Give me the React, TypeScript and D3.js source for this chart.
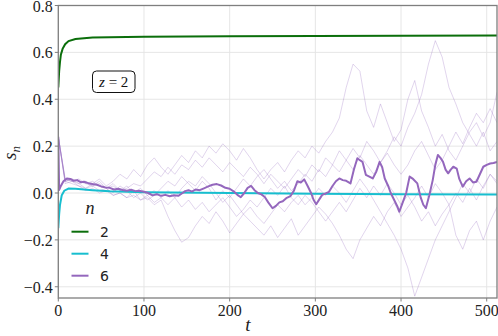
import * as d3 from "d3";

const width = 498;
const height = 336;
const margin = { left: 58.3, right: 1, top: 5.5, bottom: 38 };

const xTicks = [0, 100, 200, 300, 400, 500];
const yTicks = [-0.4, -0.2, 0.0, 0.2, 0.4, 0.6, 0.8];

// n = 2 and n = 4 curves
const greenT = [0, 1, 2, 3, 5, 8, 12, 20, 40, 100, 200, 300, 400, 512];
const greenV = [0.45, 0.52, 0.56, 0.59, 0.615, 0.635, 0.648, 0.657, 0.663, 0.667, 0.669, 0.67, 0.671, 0.672];
const cyanT = [0, 1, 2, 4, 7, 12, 20, 40, 60, 100, 200, 300, 400, 512];
const cyanV = [-0.15, -0.09, -0.05, -0.01, 0.01, 0.019, 0.018, 0.012, 0.007, 0.003, 0.0, -0.003, -0.005, -0.006];

// n = 6 average
const meanT = [0, 1, 3, 6, 10, 14, 18, 22, 26, 30, 35, 40, 45, 50, 55, 60, 65, 70, 75, 80, 85, 90, 94, 100, 105, 110, 115, 120, 125, 130, 135, 140, 145, 148, 152, 156, 160, 165, 170, 175, 180, 185, 190, 195, 200, 205, 209, 213, 217, 221, 225, 229, 233, 237, 241, 245, 250, 254, 258, 262, 266, 271, 275, 279, 283, 287, 291, 295, 298, 301, 305, 308, 312, 316, 320, 324, 328, 332, 336, 341, 345, 349, 352, 355, 359, 363, 367, 371, 375, 378, 381, 385, 388, 392, 396, 398, 402, 406, 410, 414, 419, 423, 426, 429, 433, 437, 440, 443, 446, 449, 452, 455, 458, 461, 465, 468, 472, 476, 480, 484, 488, 492, 496, 500, 504, 508, 512];
const meanV = [0.24, 0.013, 0.03, 0.05, 0.062, 0.06, 0.052, 0.055, 0.046, 0.048, 0.042, 0.038, 0.035, 0.028, 0.024, 0.022, 0.015, 0.018, 0.013, 0.01, 0.014, 0.008, 0.01, 0.005, 0.0, -0.01, -0.005, -0.012, -0.008, -0.014, -0.01, -0.012, 0.0, 0.008, 0.012, 0.006, 0.015, 0.012, 0.02, 0.028, 0.035, 0.038, 0.032, 0.022, 0.018, 0.006, -0.008, -0.018, 0.0, 0.022, 0.03, 0.012, 0.0, -0.006, -0.017, -0.04, -0.065, -0.055, -0.04, -0.035, -0.022, -0.013, 0.01, 0.05, 0.045, 0.058, 0.03, 0.0, -0.03, -0.048, -0.025, -0.008, -0.002, 0.005, 0.03, 0.05, 0.062, 0.055, 0.052, 0.041, 0.1, 0.148, 0.14, 0.133, 0.077, 0.07, 0.062, 0.09, 0.133, 0.11, 0.062, 0.03, 0.0, -0.03, -0.06, -0.08, -0.04, 0.0, 0.07, 0.06, 0.041, -0.02, -0.05, -0.065, -0.01, 0.055, 0.12, 0.162, 0.15, 0.133, 0.1, 0.084, 0.1, 0.112, 0.104, 0.06, 0.027, 0.05, 0.062, 0.045, 0.048, 0.08, 0.112, 0.12, 0.126, 0.128, 0.133];

// n = 6 single runs, sampled every 8 steps
const runStep = 8;
const run1 = [0.24, 0.05, 0.06, 0.05, 0.04, 0.05, 0.03, 0.02, 0.03, 0.01, 0.02, 0.04, 0.03, 0.06, 0.09, 0.07, 0.11, 0.08, 0.12, 0.10, 0.14, 0.11, 0.15, 0.12, 0.09, 0.13, 0.10, 0.07, 0.11, 0.08, 0.04, 0.08, 0.05, 0.02, 0.06, 0.10, 0.07, 0.12, 0.09, 0.15, 0.12, 0.18, 0.14, 0.10, 0.16, 0.12, 0.08, 0.13, 0.18, 0.24, 0.20, 0.28, 0.34, 0.42, 0.55, 0.65, 0.58, 0.45, 0.38, 0.30, 0.25, 0.20, 0.26, 0.18, 0.22];
const run2 = [0.24, 0.04, 0.05, 0.03, 0.02, 0.04, 0.06, 0.03, 0.05, 0.08, 0.06, 0.10, 0.07, 0.12, 0.15, 0.11, 0.08, 0.12, 0.16, 0.13, 0.18, 0.15, 0.20, 0.17, 0.21, 0.18, 0.14, 0.19, 0.15, 0.10, 0.06, 0.10, 0.13, 0.09, 0.14, 0.18, 0.15, 0.20, 0.17, 0.22, 0.26, 0.32, 0.45, 0.55, 0.52, 0.35, 0.28, 0.38, 0.30, 0.22, 0.27, 0.40, 0.48, 0.35, 0.28, 0.20, 0.25, 0.18, 0.14, 0.20, 0.26, 0.30, 0.24, 0.30, 0.43];
const run3 = [0.24, 0.06, 0.05, 0.04, 0.02, 0.03, 0.01, 0.02, -0.01, 0.00, -0.02, 0.01, -0.03, -0.01, -0.04, -0.02, 0.01, -0.02, 0.02, 0.05, 0.03, 0.07, 0.04, 0.00, -0.04, -0.01, -0.05, -0.09, -0.06, -0.10, -0.13, -0.09, -0.05, -0.08, -0.04, -0.01, -0.05, -0.02, 0.02, -0.01, 0.03, 0.00, -0.04, 0.01, 0.06, 0.02, -0.03, -0.08, -0.13, -0.18, -0.24, -0.32, -0.44, -0.36, -0.28, -0.20, -0.14, -0.08, -0.02, 0.04, 0.00, 0.06, 0.02, 0.08, 0.05];
const run4 = [0.24, 0.05, 0.04, 0.03, 0.01, 0.02, 0.00, 0.01, -0.01, 0.00, -0.02, -0.01, -0.03, -0.02, -0.05, -0.03, -0.10, -0.16, -0.21, -0.19, -0.14, -0.10, -0.13, -0.08, -0.12, -0.17, -0.13, -0.09, -0.12, -0.15, -0.18, -0.14, -0.19, -0.15, -0.11, -0.18, -0.14, -0.10, -0.06, -0.09, -0.13, -0.18, -0.24, -0.28, -0.20, -0.15, -0.10, -0.14, -0.08, -0.04, -0.10, -0.06, -0.02, 0.03, -0.02, 0.04, 0.00, -0.05, -0.18, -0.24, -0.16, -0.12, -0.20, -0.12, -0.06];
const run5 = [0.24, 0.05, 0.06, 0.04, 0.05, 0.03, 0.04, 0.02, 0.00, 0.03, 0.01, -0.02, 0.00, -0.03, -0.01, 0.02, 0.05, 0.03, 0.07, 0.04, 0.01, 0.05, 0.02, -0.03, 0.01, -0.02, 0.02, 0.06, 0.03, 0.07, 0.10, 0.06, 0.02, 0.05, 0.01, 0.04, 0.08, 0.05, 0.10, 0.07, 0.12, 0.09, 0.14, 0.19, 0.15, 0.22, 0.18, 0.13, 0.17, 0.12, 0.08, 0.12, 0.18, 0.22, 0.16, 0.10, 0.14, 0.20, 0.26, 0.21, 0.28, 0.34, 0.30, 0.36, 0.30];
const run6 = [0.24, 0.06, 0.05, 0.06, 0.04, 0.03, 0.05, 0.02, 0.04, 0.01, 0.03, 0.00, 0.02, -0.01, 0.01, -0.02, -0.05, -0.02, -0.06, -0.03, -0.07, -0.04, -0.08, -0.05, -0.02, -0.06, -0.10, -0.07, -0.03, -0.06, -0.02, 0.02, -0.01, 0.03, -0.02, -0.05, -0.01, -0.04, -0.08, -0.12, -0.08, -0.04, -0.08, -0.03, 0.02, -0.02, 0.03, -0.01, 0.04, 0.00, -0.05, -0.01, -0.06, -0.12, -0.08, -0.14, -0.09, -0.05, 0.00, -0.04, 0.02, -0.03, 0.03, 0.08, 0.04];
const runs = [run1, run2, run3, run4, run5, run6];

const legendLabels = ["2", "4", "6"];
const colors = ["#0b6e0b", "#17becf", "#9467bd"];

const serifStyle = { fontFamily: "Liberation Serif" };
const sansStyle = { fontFamily: "DejaVu Sans" };

export default function App() {
  const x = d3.scaleLinear().domain([0, 512]).range([margin.left, width - margin.right]);
  const y = d3.scaleLinear().domain([-0.448, 0.8]).range([height - margin.bottom, margin.top]);

  const line = d3
    .line<[number, number]>()
    .x((d) => x(d[0]))
    .y((d) => y(d[1]));

  const zip = (ts: number[], vs: number[]) => ts.map((t, i) => [t, vs[i]] as [number, number]);
  const runPts = (vs: number[]) => vs.map((v, i) => [i * runStep, v] as [number, number]);

  const [x0, x1] = x.range();
  const [y0, y1] = y.range();
  const frame = "#7f7f7f";

  return (
    <svg width={width} height={height} style={{ position: "absolute", left: 0, top: 0, fontFamily: "Liberation Serif" }}>
      <defs>
        <clipPath id="plot">
          <rect x={x0} y={y1} width={x1 - x0} height={y0 - y1} />
        </clipPath>
      </defs>
      <rect width={width} height={height} fill="white" />

      {/* grid */}
      {xTicks.map((t) => (
        <line key={"gx" + t} x1={x(t)} x2={x(t)} y1={y0} y2={y1} stroke="#e3e3e3" strokeWidth={0.9} />
      ))}
      {yTicks.map((t) => (
        <line key={"gy" + t} x1={x0} x2={x1} y1={y(t)} y2={y(t)} stroke="#e3e3e3" strokeWidth={0.9} />
      ))}

      <g clipPath="url(#plot)">
        {runs.map((r, i) => (
          <path key={"r" + i} d={line(runPts(r)) || ""} fill="none" stroke={colors[2]} strokeOpacity={0.28} strokeWidth={1} />
        ))}
        <path d={line(zip(greenT, greenV)) || ""} fill="none" stroke={colors[0]} strokeWidth={2} />
        <path d={line(zip(cyanT, cyanV)) || ""} fill="none" stroke={colors[1]} strokeWidth={2} />
        <path d={line(zip(meanT, meanV)) || ""} fill="none" stroke={colors[2]} strokeWidth={2} strokeLinejoin="round" />
      </g>

      {/* frame */}
      <rect x={x0} y={y1} width={x1 - x0} height={y0 - y1} fill="none" stroke={frame} strokeWidth={1.3} />

      {/* ticks */}
      {xTicks.map((t) => (
        <g key={"xt" + t}>
          <line x1={x(t)} x2={x(t)} y1={y0} y2={y0 + 3.5} stroke={frame} strokeWidth={1} />
          <text x={x(t)} y={y0 + 17.5} textAnchor="middle" style={serifStyle} fontSize={16} fill="#222">
            {String(t)}
          </text>
        </g>
      ))}
      {yTicks.map((t) => (
        <g key={"yt" + t}>
          <line x1={x0 - 3.5} x2={x0} y1={y(t)} y2={y(t)} stroke={frame} strokeWidth={1} />
          <text x={x0 - 5.5} y={y(t) + 6} textAnchor="end" style={serifStyle} fontSize={16} fill="#222">
            {(t < 0 ? "\u2212" : "") + Math.abs(t).toFixed(1)}
          </text>
        </g>
      ))}

      {/* axis labels */}
      <text x={248} y={331} textAnchor="middle" style={serifStyle} fontStyle="italic" fontSize={19} fill="#222">
        t
      </text>
      <text transform="translate(16,153) rotate(-90)" textAnchor="middle" style={serifStyle} fontStyle="italic" fontSize={19} fill="#222">
        s<tspan fontSize={13} dy={4}>n</tspan>
      </text>

      {/* annotation */}
      <rect x={92.5} y={71} width={42.5} height={21.5} rx={4} fill="white" stroke="#111" strokeWidth={1} />
      <text x={113.7} y={86.5} textAnchor="middle" style={serifStyle} fontSize={15} fill="#111">
        <tspan fontStyle="italic">z</tspan> = 2
      </text>

      {/* legend */}
      <text x={90} y={214} textAnchor="middle" style={serifStyle} fontStyle="italic" fontSize={18} fill="#222">
        n
      </text>
      {legendLabels.map((lab, i) => (
        <g key={"lg" + lab} transform={`translate(0,${231.7 + i * 22})`}>
          <line x1={71.5} x2={88.5} y1={0} y2={0} stroke={colors[i]} strokeWidth={2} />
          <text x={100} y={5} style={sansStyle} fontSize={14} fill="#222">
            {lab}
          </text>
        </g>
      ))}
    </svg>
  );
}
